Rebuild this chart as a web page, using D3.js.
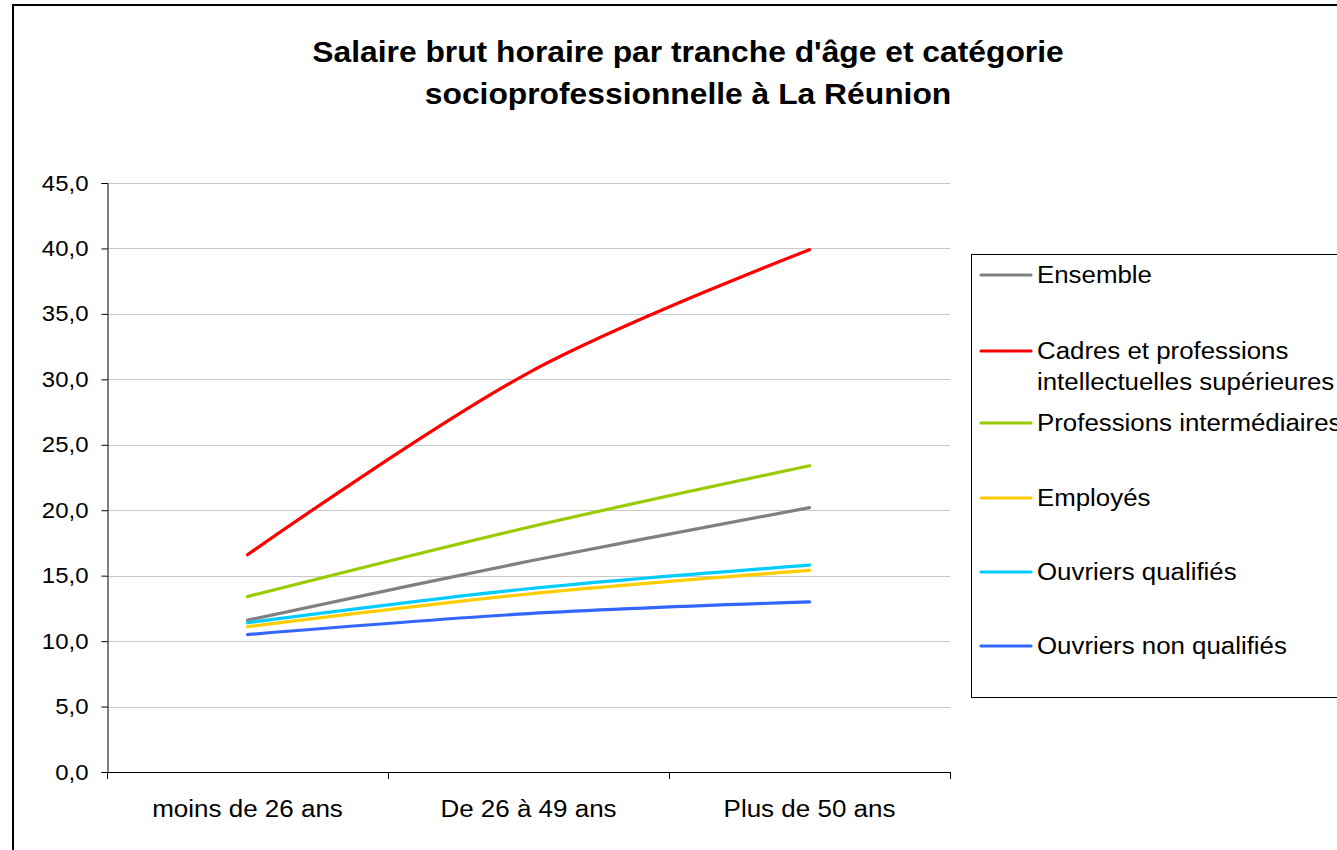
<!DOCTYPE html>
<html>
<head>
<meta charset="utf-8">
<script src="https://cdn.jsdelivr.net/npm/d3@7"></script>
<style>
  html, body { margin: 0; padding: 0; background: #fff; }
  svg { display: block; font-family: "Liberation Sans", Arial, sans-serif; }
</style>
</head>
<body>
<svg id="chart" width="1337" height="850"></svg>
<script>
const titleLines = ["Salaire brut horaire par tranche d'âge et catégorie", "socioprofessionnelle à La Réunion"];
const categories = ["moins de 26 ans", "De 26 à 49 ans", "Plus de 50 ans"];
const seriesNames = ["Ensemble", "Cadres et professions intellectuelles supérieures", "Professions intermédiaires", "Employés", "Ouvriers qualifiés", "Ouvriers non qualifiés"];
const legendLabels = [["Ensemble"], ["Cadres et professions", "intellectuelles supérieures"], ["Professions intermédiaires"], ["Employés"], ["Ouvriers qualifiés"], ["Ouvriers non qualifiés"]];
const ensemble = [11.6, 16.1, 20.2];
const cadres = [16.6, 30.5, 39.9];
const profInter = [13.4, 18.7, 23.4];
const employes = [11.1, 13.6, 15.4];
const ouvQual = [11.4, 14.0, 15.8];
const ouvNonQual = [10.5, 12.1, 13.0];
const seriesValues = [ensemble, cadres, profInter, employes, ouvQual, ouvNonQual];
const colors = ["#808080", "#FF0000", "#99CC00", "#FFCC00", "#00CCFF", "#3366FF"];
const yTicks = [0, 5, 10, 15, 20, 25, 30, 35, 40, 45];

(function () {
const svg = d3.select("#chart");

// outer frame
svg.append("rect").attr("x", 13).attr("y", 5).attr("width", 1400).attr("height", 900)
  .attr("fill", "#fff").attr("stroke", "#000").attr("stroke-width", 2);

// title
const title = svg.append("text").attr("text-anchor", "middle")
  .attr("transform", "translate(688,0) scale(1.06,1)")
  .attr("font-weight", "bold").attr("font-size", 30).attr("fill", "#000");
titleLines.forEach((t, i) => {
  title.append("tspan").attr("x", 0).attr("y", 62 + i * 42).text(t);
});

const pLeft = 107, pRight = 950, pTop = 183, pBottom = 772;
const x = d3.scaleBand().domain(categories).range([pLeft, pRight]);
const y = d3.scaleLinear().domain([0, 45]).range([pBottom, pTop]);

// gridlines
svg.append("g").selectAll("line").data(yTicks.filter(d => d > 0)).join("line")
  .attr("x1", pLeft).attr("x2", pRight)
  .attr("y1", d => Math.round(y(d)) + 0.5).attr("y2", d => Math.round(y(d)) + 0.5)
  .attr("stroke", "#C8C8C8").attr("stroke-width", 1);

// y axis
const fmt = d => d3.format(".1f")(d).replace(".", ",");
const yAxis = svg.append("g").attr("transform", `translate(${pLeft + 0.5},0)`)
  .call(d3.axisLeft(y).tickValues(yTicks).tickFormat(fmt).tickSize(6).tickPadding(13));
yAxis.select(".domain").attr("stroke", "#000");
yAxis.selectAll(".tick line").attr("stroke", "#000");
yAxis.selectAll(".tick text").attr("font-size", 22).attr("fill", "#000")
  .attr("font-family", "Liberation Sans, Arial, sans-serif")
  .attr("x", 0).attr("transform", "translate(-19,0) scale(1.09,1)");

// x axis
const xAxis = svg.append("g").attr("transform", `translate(0,${pBottom + 0.5})`)
  .call(d3.axisBottom(x).tickSize(0).tickPadding(0));
xAxis.select(".domain").remove();
svg.append("line").attr("x1", pLeft).attr("x2", pRight).attr("y1", pBottom + 0.5).attr("y2", pBottom + 0.5)
  .attr("stroke", "#000");
const boundaries = [pLeft].concat(categories.map(c => x(c) + x.bandwidth()));
svg.append("g").selectAll("line").data(boundaries).join("line")
  .attr("x1", d => Math.round(d) + 0.5).attr("x2", d => Math.round(d) + 0.5)
  .attr("y1", pBottom).attr("y2", pBottom + 7).attr("stroke", "#000");
xAxis.selectAll(".tick text").attr("font-size", 23).attr("fill", "#000")
  .attr("font-family", "Liberation Sans, Arial, sans-serif")
  .attr("dy", 0).attr("y", 45).attr("transform", "scale(1.13,1)");

// lines
const line = d3.line()
  .x((d, i) => x(categories[i]) + x.bandwidth() / 2)
  .y(d => y(d))
  .curve(d3.curveCardinal.tension(0));
svg.append("g").selectAll("path").data(seriesValues).join("path")
  .attr("d", d => line(d))
  .attr("fill", "none")
  .attr("stroke", (d, i) => colors[i])
  .attr("stroke-width", 3.2)
  .attr("stroke-linecap", "round")
  .attr("stroke-linejoin", "round");

// legend
svg.append("rect").attr("x", 971.5).attr("y", 254.5).attr("width", 500).attr("height", 443)
  .attr("fill", "#fff").attr("stroke", "#000").attr("stroke-width", 1);
const legendY = [275, 351, 423, 498, 572, 646];
const lg = svg.append("g");
seriesNames.forEach((name, i) => {
  lg.append("line").attr("x1", 981).attr("x2", 1031)
    .attr("y1", legendY[i]).attr("y2", legendY[i])
    .attr("stroke", colors[i]).attr("stroke-width", 3.2).attr("stroke-linecap", "round");
  const t = lg.append("text").attr("font-size", 23).attr("fill", "#000")
    .attr("transform", "translate(1037,0) scale(1.124,1)");
  legendLabels[i].forEach((l, j) => {
    t.append("tspan").attr("x", 0).attr("y", legendY[i] + 8.5 + j * 31).text(l);
  });
});
})();
</script>
</body>
</html>
